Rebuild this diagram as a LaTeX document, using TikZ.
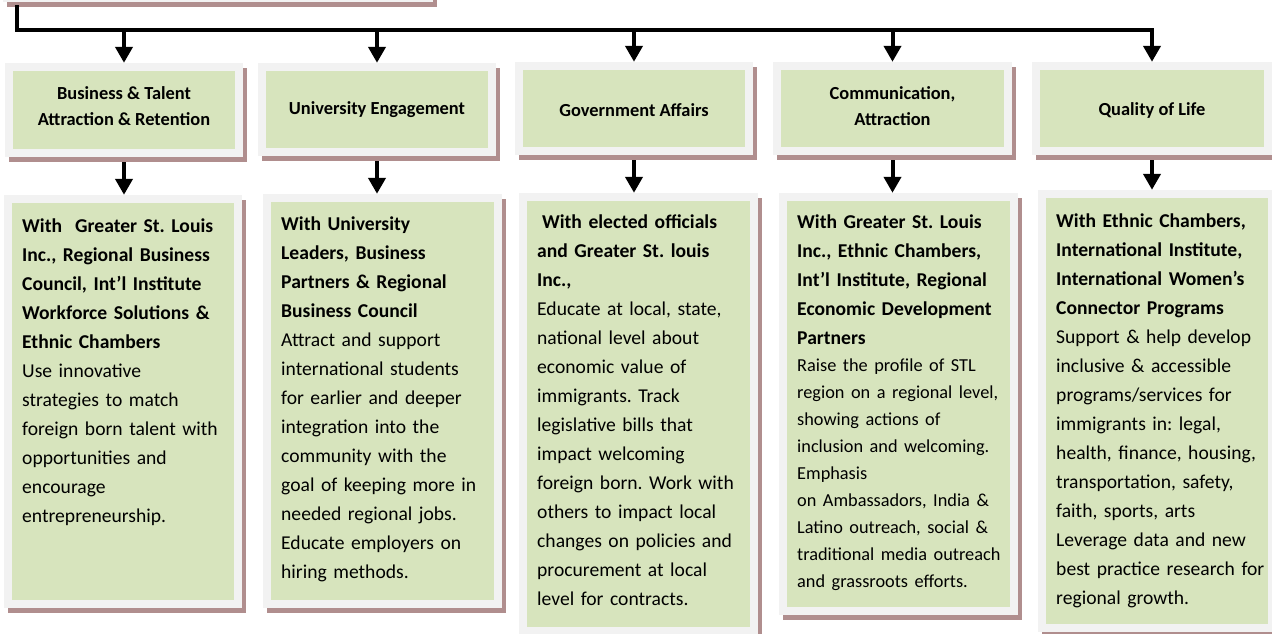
\documentclass[tikz,border=0pt]{standalone}
\usepackage{fontspec}
\setmainfont{Carlito}
\usetikzlibrary{arrows.meta,shadows}
\definecolor{framec}{RGB}{242,242,242}
\definecolor{greenc}{RGB}{215,228,189}
\definecolor{shadowc}{RGB}{176,142,142}
\tikzset{
  card/.style={rectangle, inner sep=0pt, fill=framec, draw=none,
    drop shadow={shadow xshift=4pt, shadow yshift=-5pt, fill=shadowc, opacity=1},
    path picture={\fill[greenc] ([shift={(8pt,-8pt)}]path picture bounding box.north west)
      rectangle ([shift={(-8pt,8pt)}]path picture bounding box.south east);}},
  wire/.style={line width=4pt, black, line cap=rect},
  arr/.style={line width=4pt, black, -{Triangle[width=17pt,length=16pt]}},
  headtxt/.style={font=\fontsize{18.4}{26}\selectfont\bfseries, align=center, inner sep=0pt},
  bodytxt/.style={font=\fontsize{19.6}{29}\selectfont\frenchspacing, text width=236pt, align=left, inner sep=0pt, anchor=base west},
}
\begin{document}
\frenchspacing
\begin{tikzpicture}[x=1pt,y=-1pt]
\useasboundingbox (0,0) rectangle (1272,634);

% top (cut off) box
\node[card, minimum width=430pt, minimum height=60pt] (top) at (218,-28) {};

% header boxes
\node[card, minimum width=238pt, minimum height=94pt] (h1) at (124,110) {};
\node[card, minimum width=238pt, minimum height=93pt] (h2) at (377,109.5) {};
\node[card, minimum width=238pt, minimum height=93pt] (h3) at (634,108.5) {};
\node[card, minimum width=239pt, minimum height=93pt] (h4) at (892.5,108.5) {};
\node[card, minimum width=240pt, minimum height=93pt] (h5) at (1152,108.5) {};

\node[headtxt] (ht1) at (124,106) {Business \& Talent\\Attraction \& Retention};
\node[headtxt] (ht2) at (377,110) {University Engagement};
\node[headtxt] (ht3) at (634,110) {Government Affairs};
\node[headtxt] (ht4) at (892.5,106) {Communication,\\Attraction};
\node[headtxt] (ht5) at (1152,110) {Quality of Life};

% body boxes
\node[card, minimum width=238pt, minimum height=413pt] (b1) at (123,401.5) {};
\node[card, minimum width=239pt, minimum height=414pt] (b2) at (382.5,401) {};
\node[card, minimum width=239pt, minimum height=442pt] (b3) at (638.5,414) {};
\node[card, minimum width=239pt, minimum height=422pt] (b4) at (898.5,404) {};
\node[card, minimum width=238pt, minimum height=442pt] (b5) at (1157,411) {};

\node[bodytxt] (bt1) at (22,232) {\textbf{With\ \ Greater St. Louis\\Inc., Regional Business\\Council, Int’l Institute\\Workforce Solutions \&\\Ethnic Chambers}\\Use innovative\\strategies to match\\foreign born talent with\\opportunities and\\encourage\\entrepreneurship.};
\node[bodytxt] (bt2) at (281,230) {\textbf{With University\\Leaders, Business\\Partners \& Regional\\Business Council}\\Attract and support\\international students\\for earlier and deeper\\integration into the\\community with the\\goal of keeping more in\\needed regional jobs.\\Educate employers on\\hiring methods.};
\node[bodytxt] (bt3) at (537,228) {\textbf{\hspace*{0.25em}With elected officials\\and Greater St. louis\\Inc.,}\\Educate at local, state,\\national level about\\economic value of\\immigrants. Track\\legislative bills that\\impact welcoming\\foreign born. Work with\\others to impact local\\changes on policies and\\procurement at local\\level for contracts.};
\node[bodytxt] (bt4) at (797,228) {\bfseries With Greater St. Louis\\Inc., Ethnic Chambers,\\Int’l Institute, Regional\\Economic Development\\Partners\par
\fontsize{18.3}{27}\selectfont\mdseries Raise the profile of STL\\region on a regional level,\\showing actions of\\inclusion and welcoming.\\Emphasis\\on Ambassadors, India \&\\Latino outreach, social \&\\traditional media outreach\\and grassroots efforts.\par};
\node[bodytxt] (bt5) at (1056,227) {\textbf{With Ethnic Chambers,\\International Institute,\\International Women’s\\Connector Programs}\\Support \& help develop\\inclusive \& accessible\\programs/services for\\immigrants in: legal,\\health, finance, housing,\\transportation, safety,\\faith, sports, arts\\Leverage data and new\\best practice research for\\regional growth.};

% connectors
\coordinate (bus) at (17,30);
\draw[wire, shorten <=5pt] (bus |- top.south) -- (bus) -- (bus -| h5.north);
\foreach \i in {1,...,5} {
  \draw[arr] (bus -| h\i.north) -- (h\i.north);
  \draw[arr, shorten <=5pt] (h\i.south) -- (h\i.south |- b\i.north);
}
\end{tikzpicture}
\end{document}
